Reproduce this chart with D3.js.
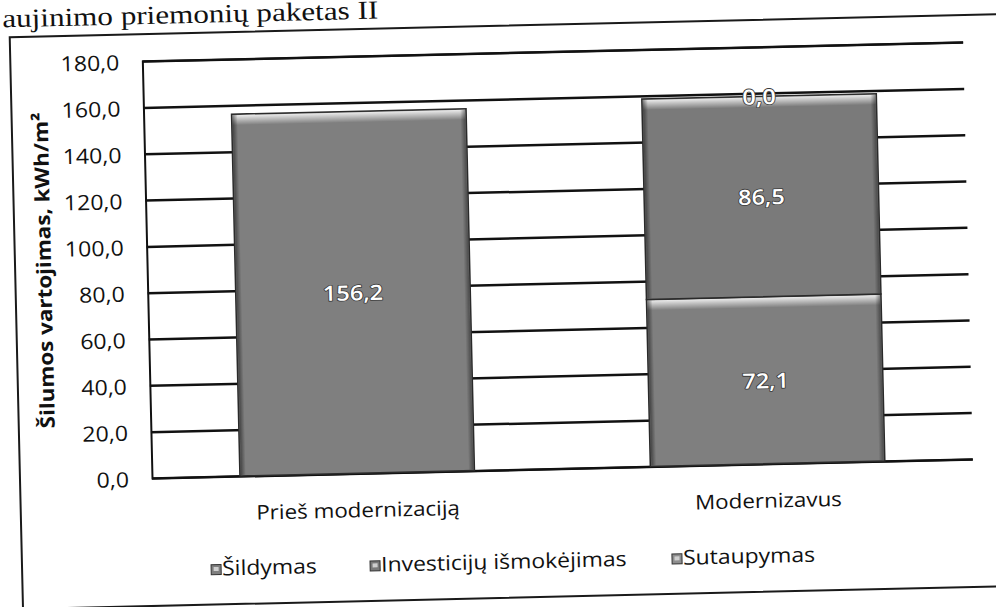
<!DOCTYPE html>
<html>
<head>
<meta charset="utf-8">
<script src="https://cdn.jsdelivr.net/npm/d3@7"></script>
<style>
  body { margin: 0; background: #fff; }
  svg { display: block; }
</style>
</head>
<body>
<svg id="chart" width="996" height="607"></svg>
<script>
// ---------- data ----------
const pageTitle = "aujinimo priemonių paketas II";
const yAxisTitle = "Šilumos vartojimas,  kWh/m²";
const categories = ["Prieš modernizaciją", "Modernizavus"];
const seriesNames = ["Šildymas", "Investicijų išmokėjimas", "Sutaupymas"];
const sildymas = [156.2, 72.1];
const investicijos = [null, 86.5];
const sutaupymas = [null, 0.0];
const yTicks = [0, 20, 40, 60, 80, 100, 120, 140, 160, 180];
const yTickLabels = ["0,0", "20,0", "40,0", "60,0", "80,0", "100,0", "120,0", "140,0", "160,0", "180,0"];
const seriesColors = ["#7f7f7f", "#7a7a7a", "#8e8e8e"];

// ---------- layout ----------
const svg = d3.select("#chart");
const plot = { left: 152, top: 61, width: 821, bottom: 478 };
const stretch = 1.12;
const sans = "'Open Sans', 'Noto Sans', sans-serif";

const defs = svg.append("defs");
const hl = defs.append("linearGradient").attr("id", "topHL").attr("x1", 0).attr("y1", 0).attr("x2", 0).attr("y2", 1);
hl.append("stop").attr("offset", "0%").attr("stop-color", "#fff").attr("stop-opacity", 0.85);
hl.append("stop").attr("offset", "100%").attr("stop-color", "#fff").attr("stop-opacity", 0);
const edgeL = defs.append("linearGradient").attr("id", "edgeL").attr("x1", 0).attr("y1", 0).attr("x2", 1).attr("y2", 0);
edgeL.append("stop").attr("offset", "0%").attr("stop-color", "#000").attr("stop-opacity", 0.45);
edgeL.append("stop").attr("offset", "100%").attr("stop-color", "#000").attr("stop-opacity", 0);
const edgeR = defs.append("linearGradient").attr("id", "edgeR").attr("x1", 1).attr("y1", 0).attr("x2", 0).attr("y2", 0);
edgeR.append("stop").attr("offset", "0%").attr("stop-color", "#000").attr("stop-opacity", 0.4);
edgeR.append("stop").attr("offset", "100%").attr("stop-color", "#000").attr("stop-opacity", 0);

// whole scanned page is slightly rotated
const g = svg.append("g").attr("transform", `rotate(-1.33, ${plot.left}, ${plot.bottom})`);

function stext(parent, x, y, str, opts = {}) {
  const t = parent.append("text")
    .attr("transform", `translate(${x},${y}) ${opts.rotate ? "rotate(" + opts.rotate + ")" : ""} scale(${opts.sx || stretch},1)`)
    .attr("font-family", opts.family || sans)
    .attr("font-size", opts.size || 20)
    .attr("font-weight", opts.weight || 400)
    .attr("fill", opts.fill || "#111")
    .attr("text-anchor", opts.anchor || "start")
    .text(str);
  if (opts.baseline) t.attr("dominant-baseline", opts.baseline);
  return t;
}

// page title (document text above the chart)
g.append("text")
  .attr("x", 13).attr("y", 24)
  .attr("font-family", "'Liberation Serif', 'DejaVu Serif', serif")
  .attr("font-size", 26)
  .attr("fill", "#111")
  .attr("textLength", 376)
  .attr("lengthAdjust", "spacingAndGlyphs")
  .text(pageTitle);

// chart frame
g.append("rect")
  .attr("x", 20).attr("y", 34).attr("width", 1000).attr("height", 572)
  .attr("fill", "none").attr("stroke", "#1a1a1a").attr("stroke-width", 2);

// scales
const x = d3.scaleBand().domain(categories)
  .range([plot.left, plot.left + plot.width])
  .paddingInner(0.4286).paddingOuter(0.2143);
const y = d3.scaleLinear().domain([0, 180]).range([plot.bottom, plot.top]);

// gridlines
const yAxis = d3.axisLeft(y).tickValues(yTicks)
  .tickSize(-plot.width).tickFormat((d, i) => yTickLabels[i]).tickPadding(23);
const ax = g.append("g").attr("transform", `translate(${plot.left},0)`).call(yAxis);
ax.select(".domain").attr("stroke", "#111").attr("stroke-width", 2);
ax.selectAll(".tick line").attr("stroke", "#111").attr("stroke-width", 2.5);
ax.selectAll(".tick text").remove();
yTicks.forEach((v, i) => {
  stext(g, plot.left - 23, y(v), yTickLabels[i], { anchor: "end", baseline: "central", size: 21, sx: 1.1 });
});

// stacked bars
const rows = categories.map((c, i) => ({
  cat: c,
  [seriesNames[0]]: sildymas[i] || 0,
  [seriesNames[1]]: investicijos[i] || 0,
  [seriesNames[2]]: sutaupymas[i] || 0,
  raw: [sildymas[i], investicijos[i], sutaupymas[i]]
}));
const stacked = d3.stack().keys(seriesNames)(rows);

const barsG = g.append("g");
stacked.forEach((layer, si) => {
  layer.forEach((seg, ci) => {
    const val = rows[ci].raw[si];
    if (val === null || val === undefined) return;
    const bx = x(rows[ci].cat), bw = x.bandwidth();
    const top = y(seg[1]), bot = y(seg[0]);
    const h = bot - top;
    if (h > 0.5) {
      barsG.append("rect").attr("x", bx).attr("y", top).attr("width", bw).attr("height", h)
        .attr("fill", seriesColors[si]).attr("stroke", "#2a2a2a").attr("stroke-width", 1.5);
      barsG.append("rect").attr("x", bx + 1).attr("y", top + 1).attr("width", bw - 2).attr("height", Math.min(10, h - 1))
        .attr("fill", "url(#topHL)");
      barsG.append("rect").attr("x", bx + 1).attr("y", top + 1).attr("width", 5).attr("height", h - 2)
        .attr("fill", "url(#edgeL)");
      barsG.append("rect").attr("x", bx + bw - 6).attr("y", top + 1).attr("width", 5).attr("height", h - 2)
        .attr("fill", "url(#edgeR)");
    }
    const lbl = stext(barsG, bx + bw / 2, (top + bot) / 2, d3.format(".1f")(val).replace(".", ","),
      { anchor: "middle", baseline: "central", size: 21, weight: 600, fill: "#fff" });
    lbl.attr("stroke", "#3a3a3a").attr("stroke-width", 1.6).attr("paint-order", "stroke").attr("stroke-linejoin", "round");
  });
});

// category labels
categories.forEach(c => {
  stext(g, x(c) + x.bandwidth() / 2, 522, c, { anchor: "middle", size: 20 });
});

// legend
const legendX = [209, 368, 670];
seriesNames.forEach((s, i) => {
  const lx = legendX[i];
  g.append("rect").attr("x", lx).attr("y", 566).attr("width", 10).attr("height", 10)
    .attr("fill", seriesColors[i]).attr("stroke", "#333").attr("stroke-width", 1);
  g.append("rect").attr("x", lx + 2.5).attr("y", 568.5).attr("width", 5).attr("height", 4)
    .attr("fill", "#cfcfcf");
  stext(g, lx + 11, 577, s, { size: 20.5 });
});

// y axis title
stext(g, 48, 268, yAxisTitle, { rotate: -90, anchor: "middle", baseline: "central", size: 20, weight: 700 });
</script>
</body>
</html>
